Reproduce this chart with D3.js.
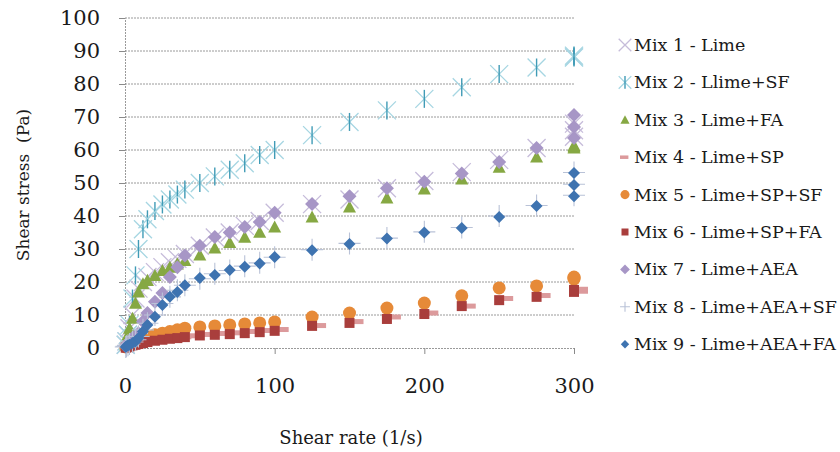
<!DOCTYPE html>
<html>
<head>
<meta charset="utf-8">
<script src="https://cdn.jsdelivr.net/npm/d3@7"></script>
<style>
  body { margin: 0; background: #fff; }
  text { font-family: "DejaVu Serif", serif; fill: #1a1a1a; }
</style>
</head>
<body>
<div id="chart"></div>
<script>
// Shear rate steps (1/s), the ramp ends with three readings at 300
const rates = [0.5, 1, 2, 3, 5, 7, 9, 12, 15, 20, 25, 30, 35, 40, 50, 60, 70, 80, 90, 100, 125, 150, 175, 200, 225, 250, 275, 300, 300, 300];

// Shear stress (Pa) per mix
const mix1 = [1, 2, 4, 6, 10, 15, 18, 20, 21.5, 23, 24.5, 26, 27, 28.5, 31, 33.5, 35, 37, 38.5, 41, 43.6, 45, 48.4, 50.6, 53.3, 57, 60.6, 64, 66, 68];
const mix2 = [1, 2, 4, 7, 15, 22, 30, 36, 39, 41.5, 43.5, 45, 46.5, 48, 50, 52, 54, 56, 58.5, 60, 64.5, 68.5, 72, 75.5, 79, 83, 85, 88, 88.3, 88.6];
const mix3 = [1, 2, 4, 6, 9, 13.6, 17, 19.5, 20.5, 22, 23.5, 24.5, 25.5, 26.5, 28.2, 30.3, 32, 33.6, 35.1, 36.7, 39.7, 42.7, 45.5, 48.2, 51.2, 54.8, 57.9, 60.6, 61, 61.4];
const mix4 = [0.2, 0.4, 0.6, 0.8, 1, 1.3, 1.6, 1.9, 2.2, 2.6, 2.9, 3.2, 3.4, 3.7, 4.1, 4.4, 4.6, 5, 5.3, 5.6, 6.8, 8, 9.4, 10.6, 12.7, 15, 15.9, 17.2, 17.5, 17.8];
const mix5 = [0.3, 0.5, 0.8, 1, 1.5, 2, 2.5, 3, 3.5, 4, 4.5, 5, 5.5, 6, 6.4, 6.7, 7, 7.3, 7.6, 7.9, 9.4, 10.6, 12.1, 13.6, 15.8, 18.2, 18.8, 20.9, 21.2, 21.5];
const mix6 = [0.1, 0.2, 0.4, 0.5, 0.8, 1, 1.2, 1.5, 1.8, 2.2, 2.5, 2.8, 3, 3.3, 3.8, 4, 4.2, 4.5, 4.8, 5.2, 6.7, 7.6, 8.8, 10.3, 12.7, 14.5, 15.5, 17, 17.3, 17.6];
const mix7 = [0.5, 1, 1.5, 2, 3, 3.5, 4.5, 8, 10.6, 14, 16.7, 21.5, 24.5, 28, 31, 33.6, 35, 36.7, 38.2, 41, 43.6, 46, 48.4, 50.4, 52.9, 56.4, 60.6, 63.6, 67, 70.6];
const mix8 = [0.3, 0.5, 0.8, 1.2, 1.8, 2.5, 3.5, 5.5, 7.5, 10, 13.5, 15.5, 17.5, 19, 21, 22.5, 23.5, 24.8, 25.8, 27.5, 29.8, 31.7, 33.3, 35.2, 36.5, 40, 43.2, 46.3, 49.6, 53.2];
const mix9 = [0.3, 0.5, 0.8, 1, 1.5, 2, 3, 5, 7, 9.5, 13, 15.5, 17, 19, 21.2, 22.1, 23.6, 24.6, 25.6, 27.6, 29.6, 31.5, 33.2, 35, 36.4, 39.7, 43, 46, 49.4, 53];

const seriesNames = ["Mix 1 - Lime", "Mix 2 - Llime+SF", "Mix 3 - Lime+FA", "Mix 4 - Lime+SP",
  "Mix 5 - Lime+SP+SF", "Mix 6 - Lime+SP+FA", "Mix 7 - Lime+AEA", "Mix 8 - Lime+AEA+SF", "Mix 9 - Lime+AEA+FA"];
const seriesValues = [mix1, mix2, mix3, mix4, mix5, mix6, mix7, mix8, mix9];

const xTicks = [0, 100, 200, 300];
const yTicks = [0, 10, 20, 30, 40, 50, 60, 70, 80, 90, 100];

// marker look per series
const markers = [
  { type: "cross", color: "#c6bcda" },
  { type: "star", color: "#a6d6e2", color2: "#3f9bb6" },
  { type: "triangle", color: "#86a843" },
  { type: "dash", color: "#dc9a9c" },
  { type: "circle", color: "#e68a38" },
  { type: "square", color: "#a93e3c" },
  { type: "diamond", color: "#a796c6", r: 7 },
  { type: "plus", color: "#b9c2d7" },
  { type: "diamond", color: "#3e73b0", r: 6 }
];

const width = 840, height = 452;

const svg = d3.select("#chart")
  .append("svg")
  .attr("width", width)
  .attr("height", height);

const x = d3.scaleLinear().domain([0, 300]).range([125, 574]);
const y = d3.scaleLinear().domain([0, 100]).range([348, 18]);

// gridlines
svg.append("g")
  .selectAll("line")
  .data(yTicks.slice(1))
  .enter()
  .append("line")
  .attr("x1", x(0))
  .attr("x2", x(300))
  .attr("y1", d => y(d))
  .attr("y2", d => y(d))
  .attr("stroke", "#9a9a9a")
  .attr("stroke-dasharray", "2,1");

// y axis
const yAxis = svg.append("g")
  .attr("transform", `translate(${x(0)},0)`)
  .call(d3.axisLeft(y).tickValues(yTicks).tickSize(6).tickPadding(19));
yAxis.select(".domain").attr("stroke", "#9a9a9a").attr("stroke-dasharray", "2,1");
yAxis.selectAll(".tick line").attr("stroke", "#8a8a8a");
yAxis.selectAll(".tick text")
  .style("font-family", "DejaVu Serif")
  .style("font-size", "21px")
  .attr("fill", "#1a1a1a");

// x axis
const xAxis = svg.append("g")
  .attr("transform", `translate(0,${y(0)})`)
  .call(d3.axisBottom(x).tickValues(xTicks).tickSize(6).tickPadding(24));
xAxis.select(".domain").attr("stroke", "#9a9a9a").attr("stroke-dasharray", "2,1");
xAxis.selectAll(".tick line").attr("stroke", "#8a8a8a");
xAxis.selectAll(".tick text")
  .style("font-family", "DejaVu Serif")
  .style("font-size", "21px")
  .attr("fill", "#1a1a1a");

// axis titles
svg.append("text")
  .attr("transform", "translate(29,185) rotate(-90)")
  .attr("text-anchor", "middle")
  .style("font-size", "17px")
  .style("white-space", "pre")
  .text("Shear stress  (Pa)");

svg.append("text")
  .attr("x", 351)
  .attr("y", 444)
  .attr("text-anchor", "middle")
  .style("font-size", "18px")
  .text("Shear rate (1/s)");

// draw one marker into a group centred at 0,0
function drawMarker(g, m, s) {
  if (m.type === "cross") {
    const r = 9 * s;
    g.append("path").attr("d", `M${-r},${-r}L${r},${r}M${-r},${r}L${r},${-r}`)
      .attr("stroke", m.color).attr("stroke-width", 1.3).attr("fill", "none");
  } else if (m.type === "star") {
    const r = 9 * s;
    g.append("path").attr("d", `M${-r},${-r}L${r},${r}M${-r},${r}L${r},${-r}`)
      .attr("stroke", m.color).attr("stroke-width", 1.3).attr("fill", "none");
    g.append("path").attr("d", `M0,${-r}L0,${r}`)
      .attr("stroke", m.color2).attr("stroke-width", 1.4);
  } else if (m.type === "triangle") {
    const r = 6.5 * s;
    g.append("path").attr("d", `M0,${-r}L${r},${r * 0.85}L${-r},${r * 0.85}Z`).attr("fill", m.color);
  } else if (m.type === "dash") {
    g.append("rect").attr("x", s < 1 ? -5 : 2).attr("y", -2.5 * s)
      .attr("width", 12 * s).attr("height", 5 * s).attr("fill", m.color);
  } else if (m.type === "circle") {
    g.append("circle").attr("r", 6.5 * s).attr("fill", m.color);
  } else if (m.type === "square") {
    const r = 5 * s;
    g.append("rect").attr("x", -r).attr("y", -r).attr("width", 2 * r).attr("height", 2 * r).attr("fill", m.color);
  } else if (m.type === "diamond") {
    const r = m.r * s;
    g.append("path").attr("d", `M0,${-r}L${r},0L0,${r}L${-r},0Z`).attr("fill", m.color);
  } else if (m.type === "plus") {
    const r = 11 * s;
    g.append("path").attr("d", `M${-r},0L${r},0M0,${-r}L0,${r}`)
      .attr("stroke", m.color).attr("stroke-width", 1.1);
  }
}

// series points, drawn in order so later mixes sit on top
seriesValues.forEach((vals, i) => {
  const pts = rates.map((r, j) => ({ x: r, y: vals[j] }));
  const layer = svg.append("g").attr("class", "series-" + (i + 1));
  layer.selectAll("g")
    .data(pts)
    .enter()
    .append("g")
    .attr("transform", d => `translate(${x(d.x)},${y(d.y)})`)
    .each(function () { drawMarker(d3.select(this), markers[i], 1); });
});

// legend
const legend = svg.append("g").attr("transform", "translate(625,45)");
seriesNames.forEach((name, i) => {
  const row = legend.append("g").attr("transform", `translate(0,${i * 37.4})`);
  drawMarker(row, markers[i], markers[i].type === "plus" ? 0.45 : 0.7);
  row.append("text")
    .attr("x", 9)
    .attr("y", 6)
    .style("font-size", "17.5px")
    .text(name);
});
</script>
</body>
</html>
